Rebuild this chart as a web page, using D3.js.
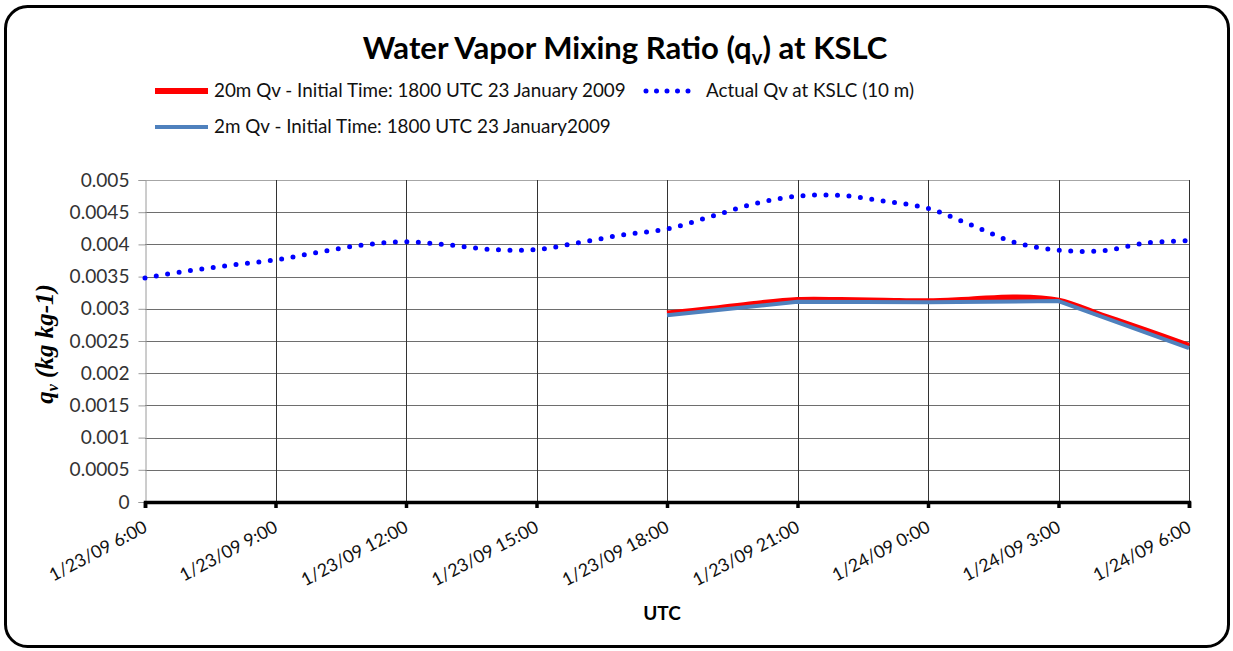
<!DOCTYPE html>
<html><head><meta charset="utf-8">
<script src="https://cdn.jsdelivr.net/npm/d3@7"></script>
<style>
html,body{margin:0;padding:0;background:#fff;}
svg{display:block;}
</style></head>
<body>
<svg id="chart" width="1233" height="651"></svg>
<script>
// ---- data ----
const actualHours = [6,7,8,9,10,11,12,13,14,15,16,17,18,19,20,21,22,23,24,25,26,27,28,29,30]; // hours after 1/23/09 0:00 UTC
const actualQv = [0.00348,0.00359,0.00368,0.00376,0.00388,0.00399,0.00404,0.00399,0.00392,0.00392,0.00403,0.00415,0.00424,0.00443,0.00463,0.00475,0.00476,0.00467,0.00456,0.00430,0.00403,0.00391,0.00390,0.00402,0.00406];
const qv20Hours = [18,19,20,21,22,23,24,25,26,27,28,29,30];
const qv20 = [0.00293,0.00300,0.00308,0.00314,0.00314,0.00313,0.00312,0.00315,0.00318,0.00313,0.00290,0.00267,0.00243];
const qv2Hours = [18,21,24,27,30];
const qv2 = [0.00290,0.00311,0.00310,0.00312,0.00239];
const xTickHours = [6,9,12,15,18,21,24,27,30];
const xTickLabels = ["1/23/09 6:00","1/23/09 9:00","1/23/09 12:00","1/23/09 15:00","1/23/09 18:00","1/23/09 21:00","1/24/09 0:00","1/24/09 3:00","1/24/09 6:00"];
const yTicks = [0,0.0005,0.001,0.0015,0.002,0.0025,0.003,0.0035,0.004,0.0045,0.005];
const yTickLabels = ["0","0.0005","0.001","0.0015","0.002","0.0025","0.003","0.0035","0.004","0.0045","0.005"];
const seriesNames = ["20m Qv - Initial Time: 1800 UTC 23 January 2009","Actual Qv at KSLC (10 m)","2m Qv - Initial Time: 1800 UTC 23 January2009"];

const base = Date.UTC(2009,0,23,0,0);
const toDate = h => new Date(base + h*3600*1000);
const FONT = "Lato, 'Open Sans', sans-serif";

const svg = d3.select("#chart");

// fit a text element's font-size so its width equals target
function fit(sel, target){
  const n = sel.node();
  const fs = parseFloat(sel.attr("font-size"));
  const w = n.getComputedTextLength();
  sel.attr("font-size", fs*target/w);
  return fs*target/w;
}

// frame
svg.append("rect").attr("x",5.5).attr("y",6.5).attr("width",1223).attr("height",640)
  .attr("rx",22).attr("ry",22).attr("fill","#fff").attr("stroke","#000").attr("stroke-width",3);

const x = d3.scaleUtc().domain([toDate(6),toDate(30)]).range([145,1189]);
const y = d3.scaleLinear().domain([0,0.005]).range([502,180]);

// horizontal gridlines
svg.append("g").selectAll("line").data(yTicks.slice(1)).join("line")
  .attr("x1",145).attr("x2",1189)
  .attr("y1",d=>Math.round(y(d))+0.5).attr("y2",d=>Math.round(y(d))+0.5)
  .attr("stroke",(d,i)=> i===yTicks.length-2 ? "#a6a6a6" : "#6e6e6e").attr("stroke-width",1);
// vertical gridlines
svg.append("g").selectAll("line").data(xTickHours.slice(1)).join("line")
  .attr("x1",d=>Math.round(x(toDate(d)))+0.5).attr("x2",d=>Math.round(x(toDate(d)))+0.5)
  .attr("y1",180).attr("y2",502)
  .attr("stroke","#333").attr("stroke-width",1);

// measure tick font sizes
const probe = svg.append("text").attr("font-family",FONT).attr("font-size",16).text("0.0045");
const yFs = fit(probe, 60);
probe.attr("font-size",16).text("1/23/09 6:00");
const xFs = fit(probe, 108);
probe.remove();

// y axis
const yAxis = d3.axisLeft(y).tickValues(yTicks).tickSize(7).tickPadding(9)
  .tickFormat((d,i)=>yTickLabels[i]);
const gy = svg.append("g").attr("transform","translate(145.5,0)").call(yAxis);
gy.select(".domain").attr("stroke","#9a9a9a");
gy.selectAll(".tick line").attr("stroke","#9a9a9a");
gy.selectAll(".tick text").attr("font-family",FONT).attr("font-size",yFs).attr("fill","#333");

// x axis
const xAxis = d3.axisBottom(x).tickValues(xTickHours.map(toDate)).tickSize(6).tickFormat((d,i)=>xTickLabels[i]);
const gx = svg.append("g").attr("transform","translate(0,502)").call(xAxis);
gx.select(".domain").attr("stroke","#000").attr("stroke-width",3.5);
gx.selectAll(".tick line").attr("stroke","#000").attr("stroke-width",3.5);
gx.selectAll(".tick text")
  .attr("font-family",FONT).attr("font-size",xFs).attr("fill","#111")
  .attr("text-anchor","end").attr("dy",0).attr("y",0)
  .attr("transform","translate(3,29) rotate(-28)");

// lines
const line = (hrs) => d3.line().x((d,i)=>x(toDate(hrs[i]))).y(d=>y(d));
svg.append("path").datum(qv20).attr("d",line(qv20Hours).curve(d3.curveCatmullRom.alpha(0.5)))
  .attr("fill","none").attr("stroke","#ff0000").attr("stroke-width",5.5).attr("stroke-linejoin","round");
svg.append("path").datum(actualQv).attr("d",line(actualHours).curve(d3.curveCatmullRom.alpha(0.5)))
  .attr("fill","none").attr("stroke","#0000ff").attr("stroke-width",5).attr("stroke-linecap","round")
  .attr("stroke-dasharray","0 11.5");
svg.append("path").datum(qv2).attr("d",line(qv2Hours))
  .attr("fill","none").attr("stroke","#4f81bd").attr("stroke-width",4).attr("stroke-linejoin","round");

// title
const title = svg.append("text").attr("x",625).attr("y",59).attr("text-anchor","middle")
  .attr("font-family",FONT).attr("font-weight","bold").attr("font-size",26).attr("fill","#000");
title.append("tspan").text("Water Vapor Mixing Ratio (q");
title.append("tspan").text("v").attr("font-size","0.65em").attr("dy",6);
title.append("tspan").text(") at KSLC").attr("dy",-6);
fit(title, 525);

// legend
const lg = svg.append("g").attr("font-family",FONT).attr("fill","#111");
lg.append("line").attr("x1",155).attr("x2",208).attr("y1",91).attr("y2",91).attr("stroke","#ff0000").attr("stroke-width",6);
fit(lg.append("text").attr("x",214).attr("y",97).attr("font-size",17).text(seriesNames[0]), 412);
lg.append("line").attr("x1",646).attr("x2",698).attr("y1",91).attr("y2",91).attr("stroke","#0000ff").attr("stroke-width",5)
  .attr("stroke-linecap","round").attr("stroke-dasharray","0 10.5");
fit(lg.append("text").attr("x",706).attr("y",97).attr("font-size",17).text(seriesNames[1]), 208);
lg.append("line").attr("x1",155).attr("x2",208).attr("y1",127).attr("y2",127).attr("stroke","#4f81bd").attr("stroke-width",4);
fit(lg.append("text").attr("x",214).attr("y",133).attr("font-size",17).text(seriesNames[2]), 397);

// axis titles
svg.append("text").attr("x",662).attr("y",620).attr("text-anchor","middle")
  .attr("font-family",FONT).attr("font-weight","bold").attr("font-size",19).text("UTC");
const yt = svg.append("text").attr("transform","translate(53,344) rotate(-90)").attr("text-anchor","middle")
  .attr("font-family","'Liberation Serif',serif").attr("font-weight","bold").attr("font-style","italic").attr("font-size",25);
yt.append("tspan").text("q");
yt.append("tspan").text("v").attr("font-size",16).attr("dy",5);
yt.append("tspan").text(" (kg kg-1)").attr("dy",-5);
</script>
</body></html>
